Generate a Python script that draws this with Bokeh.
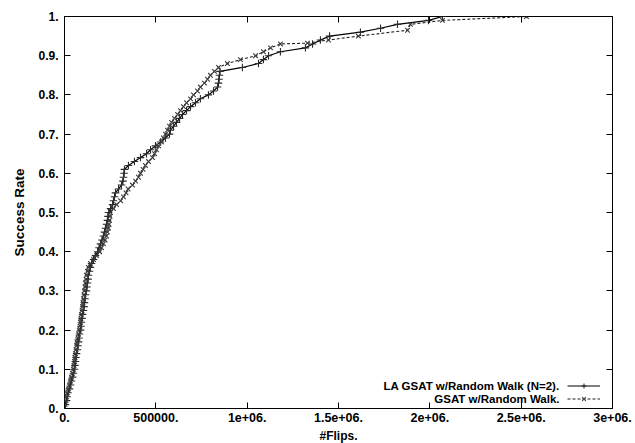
from bokeh.plotting import figure
from bokeh.models import LinearAxis, FixedTicker, Legend, LegendItem, Label, Range1d
from bokeh.core.properties import value
from bokeh.embed import file_html
from bokeh.resources import INLINE

# ---- data ----
la_x = [5000, 11000, 14000, 19000, 27000, 33000, 38000, 44000, 49000, 55000,
        57000, 60000, 63000, 66000, 71000, 74000, 77000, 79000, 82000, 88000,
        90000, 93000, 96000, 99000, 104000, 107000, 109000, 112000, 115000, 120000,
        123000, 126000, 129000, 131000, 137000, 142000, 148000, 159000, 170000, 181000,
        189000, 197000, 205000, 213000, 219000, 224000, 230000, 235000, 238000, 241000,
        252000, 263000, 268000, 274000, 279000, 296000, 312000, 320000, 323000, 326000,
        328000, 350000, 383000, 416000, 449000, 471000, 498000, 526000, 553000, 575000,
        580000, 597000, 613000, 630000, 646000, 668000, 690000, 717000, 744000, 788000,
        816000, 838000, 843000, 846000, 848000, 851000, 974000, 1062000, 1089000, 1117000,
        1182000, 1319000, 1358000, 1401000, 1451000, 1620000, 1730000, 1823000, 1993000, 2069000]
la_y = [0.01, 0.02, 0.03, 0.04, 0.05, 0.06, 0.07, 0.08, 0.09, 0.10,
        0.11, 0.12, 0.13, 0.14, 0.15, 0.16, 0.17, 0.18, 0.19, 0.20,
        0.21, 0.22, 0.23, 0.24, 0.25, 0.26, 0.27, 0.28, 0.29, 0.30,
        0.31, 0.32, 0.33, 0.34, 0.35, 0.36, 0.37, 0.38, 0.39, 0.40,
        0.41, 0.42, 0.43, 0.44, 0.45, 0.46, 0.47, 0.48, 0.49, 0.50,
        0.51, 0.52, 0.53, 0.54, 0.55, 0.56, 0.57, 0.58, 0.59, 0.60,
        0.61, 0.62, 0.63, 0.64, 0.65, 0.66, 0.67, 0.68, 0.69, 0.70,
        0.71, 0.72, 0.73, 0.74, 0.75, 0.76, 0.77, 0.78, 0.79, 0.80,
        0.81, 0.82, 0.83, 0.84, 0.85, 0.86, 0.87, 0.88, 0.89, 0.90,
        0.91, 0.92, 0.93, 0.94, 0.95, 0.96, 0.97, 0.98, 0.99, 1.00]

gs_x = [3000, 8000, 11000, 16000, 22000, 27000, 33000, 38000, 44000, 49000,
        52000, 55000, 57000, 60000, 63000, 66000, 68000, 74000, 77000, 82000,
        85000, 88000, 90000, 93000, 96000, 99000, 101000, 104000, 107000, 109000,
        112000, 115000, 118000, 120000, 126000, 131000, 142000, 159000, 175000, 192000,
        203000, 213000, 222000, 230000, 235000, 241000, 244000, 246000, 249000, 252000,
        268000, 285000, 307000, 323000, 337000, 348000, 372000, 389000, 405000, 416000,
        430000, 443000, 460000, 482000, 493000, 504000, 515000, 531000, 542000, 553000,
        564000, 575000, 586000, 602000, 619000, 635000, 651000, 668000, 690000, 706000,
        728000, 744000, 766000, 783000, 799000, 821000, 843000, 892000, 963000, 1046000,
        1089000, 1128000, 1182000, 1330000, 1445000, 1609000, 1878000, 1894000, 2069000, 2529000]
gs_y = [0.01, 0.02, 0.03, 0.04, 0.05, 0.06, 0.07, 0.08, 0.09, 0.10,
        0.11, 0.12, 0.13, 0.14, 0.15, 0.16, 0.17, 0.18, 0.19, 0.20,
        0.21, 0.22, 0.23, 0.24, 0.25, 0.26, 0.27, 0.28, 0.29, 0.30,
        0.31, 0.32, 0.33, 0.34, 0.35, 0.36, 0.37, 0.38, 0.39, 0.40,
        0.41, 0.42, 0.43, 0.44, 0.45, 0.46, 0.47, 0.48, 0.49, 0.50,
        0.51, 0.52, 0.53, 0.54, 0.55, 0.56, 0.57, 0.58, 0.59, 0.60,
        0.61, 0.62, 0.63, 0.64, 0.65, 0.66, 0.67, 0.68, 0.69, 0.70,
        0.71, 0.72, 0.73, 0.74, 0.75, 0.76, 0.77, 0.78, 0.79, 0.80,
        0.81, 0.82, 0.83, 0.84, 0.85, 0.86, 0.87, 0.88, 0.89, 0.90,
        0.91, 0.92, 0.93, 0.932, 0.94, 0.95, 0.965, 0.98, 0.99, 1.00]

x_ticks = [0, 500000, 1000000, 1500000, 2000000, 2500000, 3000000]
x_tick_labels = ["0.", "500000.", "1e+06.", "1.5e+06.", "2e+06.", "2.5e+06.", "3e+06."]
y_ticks = [0, 0.1, 0.2, 0.3, 0.4, 0.5, 0.6, 0.7, 0.8, 0.9, 1.0]
y_tick_labels = ["0.", "0.1.", "0.2.", "0.3.", "0.4.", "0.5.", "0.6.", "0.7.", "0.8.", "0.9.", "1."]

series_names = ["LA GSAT w/Random Walk (N=2).", "GSAT w/Random Walk."]
x_title = "#Flips."
y_title = "Success Rate"

FONT = "Liberation Sans"

p = figure(frame_width=548, frame_height=392,
           x_range=Range1d(0, 3000000), y_range=Range1d(0, 1),
           output_backend="svg", toolbar_location=None,
           min_border_left=64, min_border_right=23, min_border_top=16, min_border_bottom=35)
p.outline_line_color = "black"
p.outline_line_width = 1
p.xgrid.visible = False
p.ygrid.visible = False
p.background_fill_color = "white"
p.border_fill_color = "white"


def style_axis(ax, ticks, labels, show_labels=True, size="12px"):
    ax.ticker = FixedTicker(ticks=ticks)
    if show_labels:
        ax.major_label_overrides = {t: l for t, l in zip(ticks, labels)}
    else:
        ax.major_label_overrides = {t: "" for t in ticks}
    ax.axis_line_color = None
    ax.major_tick_in = 6
    ax.major_tick_out = 0
    ax.minor_tick_in = 0
    ax.minor_tick_out = 0
    ax.major_tick_line_color = "black"
    ax.major_label_text_font = FONT
    ax.major_label_text_font_style = "bold"
    ax.major_label_text_font_size = size
    ax.major_label_text_color = "black"
    ax.axis_label_text_font = FONT
    ax.axis_label_text_font_style = "bold"
    ax.axis_label_text_font_size = "12px"
    ax.axis_label_text_color = "black"


style_axis(p.xaxis[0], x_ticks, x_tick_labels, size="12.5px")
style_axis(p.yaxis[0], y_ticks, y_tick_labels, size="12px")
p.xaxis[0].axis_label = x_title
p.yaxis[0].axis_label = y_title
p.yaxis[0].axis_label_text_font_size = "13.5px"
p.xaxis[0].major_label_standoff = 4
p.xaxis[0].axis_label_standoff = 4
p.yaxis[0].major_label_standoff = 6
p.yaxis[0].axis_label_standoff = 8

right_ax = LinearAxis()
style_axis(right_ax, y_ticks, y_tick_labels, show_labels=False)
right_ax.major_label_standoff = 0
p.add_layout(right_ax, "right")
top_ax = LinearAxis()
style_axis(top_ax, x_ticks, x_tick_labels, show_labels=False)
top_ax.major_label_standoff = 0
p.add_layout(top_ax, "above")

la_line = p.line(la_x, la_y, line_color="black", line_width=1.2)
la_pts = p.scatter(la_x, la_y, marker="cross", size=7.5, line_color="#2a2a2a", line_width=1.1)
gs_line = p.line(gs_x, gs_y, line_color="#222222", line_width=1.1, line_dash="3 2")
gs_pts = p.scatter(gs_x, gs_y, marker="x", size=6.5, line_color="#3a3a3a", line_width=1.1)

legend = Legend(items=[LegendItem(label=value(""), renderers=[la_line, la_pts]),
                       LegendItem(label=value(""), renderers=[gs_line, gs_pts])],
                location=(503, 3), orientation="vertical",
                glyph_width=33, glyph_height=13, label_width=0, label_height=13,
                label_standoff=0, padding=0, margin=0, spacing=0,
                border_line_alpha=0, background_fill_alpha=0,
                label_text_font_size="1px")
p.add_layout(legend)

for name, yy in zip(series_names, [22.5, 9.5]):
    p.add_layout(Label(x=495, y=yy, x_units="screen", y_units="screen", text=name,
                       text_align="right", text_baseline="middle",
                       text_font=FONT, text_font_style="bold", text_font_size="11.5px",
                       text_color="black"))

open("out.html", "w").write(file_html(p, INLINE))
